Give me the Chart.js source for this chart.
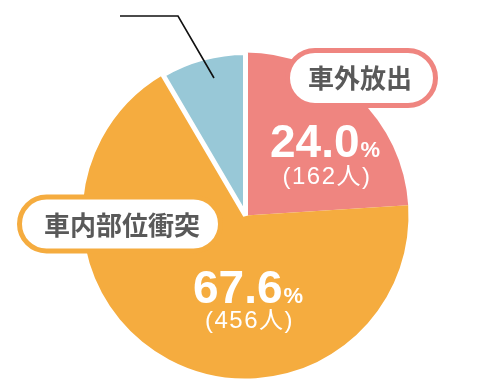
<!DOCTYPE html>
<html>
<head>
<meta charset="utf-8">
<script src="https://cdn.jsdelivr.net/npm/chart.js@4/dist/chart.umd.min.js"></script>
<style>
  html, body { margin: 0; padding: 0; background: #fff; }
  canvas { display: block; }
</style>
</head>
<body>
<canvas id="pie" width="480" height="384"></canvas>
<script>
// data
const categories = ['車外放出', '車内部位衝突', ''];
const counts = [162, 456, 57];
const colors = ['#EF8580', '#F5AC3F', '#98C8D7'];

const total = counts.reduce((a, b) => a + b, 0);
const pct = counts.map(v => (v / total * 100).toFixed(1));

const JP = '"Noto Sans CJK JP", sans-serif';
const NUM = '"Liberation Sans", Arial, "Noto Sans CJK JP", sans-serif';

function pill(ctx, x, y, w, h, stroke) {
  const r = h / 2;
  ctx.beginPath();
  ctx.moveTo(x - w / 2 + r, y - r);
  ctx.lineTo(x + w / 2 - r, y - r);
  ctx.arc(x + w / 2 - r, y, r, -Math.PI / 2, Math.PI / 2);
  ctx.lineTo(x - w / 2 + r, y + r);
  ctx.arc(x - w / 2 + r, y, r, Math.PI / 2, Math.PI * 1.5);
  ctx.closePath();
  ctx.fillStyle = '#fff';
  ctx.fill();
  ctx.lineWidth = 5;
  ctx.strokeStyle = stroke;
  ctx.stroke();
}

function percentText(ctx, x, y, value) {
  ctx.fillStyle = '#fff';
  ctx.textAlign = 'left';
  ctx.textBaseline = 'alphabetic';
  ctx.font = 'bold 46px ' + NUM;
  ctx.fillText(value, x, y);
  let w = ctx.measureText(value).width;
  ctx.font = 'bold 22px ' + NUM;
  ctx.fillText('%', x + w + 1, y);
}

function countText(ctx, x, y, n) {
  ctx.save();
  ctx.fillStyle = '#fff';
  ctx.textAlign = 'center';
  ctx.textBaseline = 'middle';
  ctx.font = '24px ' + NUM;
  ctx.letterSpacing = '1.5px';
  ctx.fillText('(' + n + '人)', x + 1, y);
  ctx.restore();
}

const labelPlugin = {
  id: 'pieLabels',
  afterDraw(chart) {
    const ctx = chart.ctx;
    const arc = chart.getDatasetMeta(0).data[0];
    const cx = arc.x, cy = arc.y;
    ctx.save();

    // leader line for the small slice
    ctx.beginPath();
    ctx.moveTo(cx - 125.5, cy - 199.5);
    ctx.lineTo(cx - 67.5, cy - 199.5);
    ctx.lineTo(cx - 31.5, cy - 137.5);
    ctx.lineWidth = 1.6;
    ctx.strokeStyle = '#111';
    ctx.stroke();

    // category pills
    pill(ctx, cx + 116, cy - 137.5, 148, 55, colors[0]);
    pill(ctx, cx - 125.5, cy + 8.5, 201, 54, colors[1]);
    ctx.fillStyle = '#595959';
    ctx.textAlign = 'center';
    ctx.textBaseline = 'middle';
    ctx.font = 'bold 26px ' + JP;
    ctx.fillText(categories[0], cx + 114.5, cy - 137);
    ctx.fillText(categories[1], cx - 123.5, cy + 9.5);

    // values
    percentText(ctx, cx + 24.5, cy - 58.5, pct[0]);
    countText(ctx, cx + 80.5, cy - 38.5, counts[0]);
    percentText(ctx, cx - 52.5, cy + 87.5, pct[1]);
    countText(ctx, cx + 3, cy + 106, counts[1]);

    ctx.restore();
  }
};

new Chart(document.getElementById('pie'), {
  type: 'pie',
  data: {
    labels: categories,
    datasets: [{
      data: counts,
      backgroundColor: colors,
      borderColor: '#fff',
      borderWidth: [0, 0, 5],
      hoverBorderWidth: 0,
      hoverOffset: 0
    }]
  },
  options: {
    responsive: false,
    animation: false,
    events: [],
    layout: { padding: { left: 80, right: 69, top: 50, bottom: 3 } },
    plugins: {
      legend: { display: false },
      tooltip: { enabled: false }
    }
  },
  plugins: [labelPlugin]
});
</script>
</body>
</html>
